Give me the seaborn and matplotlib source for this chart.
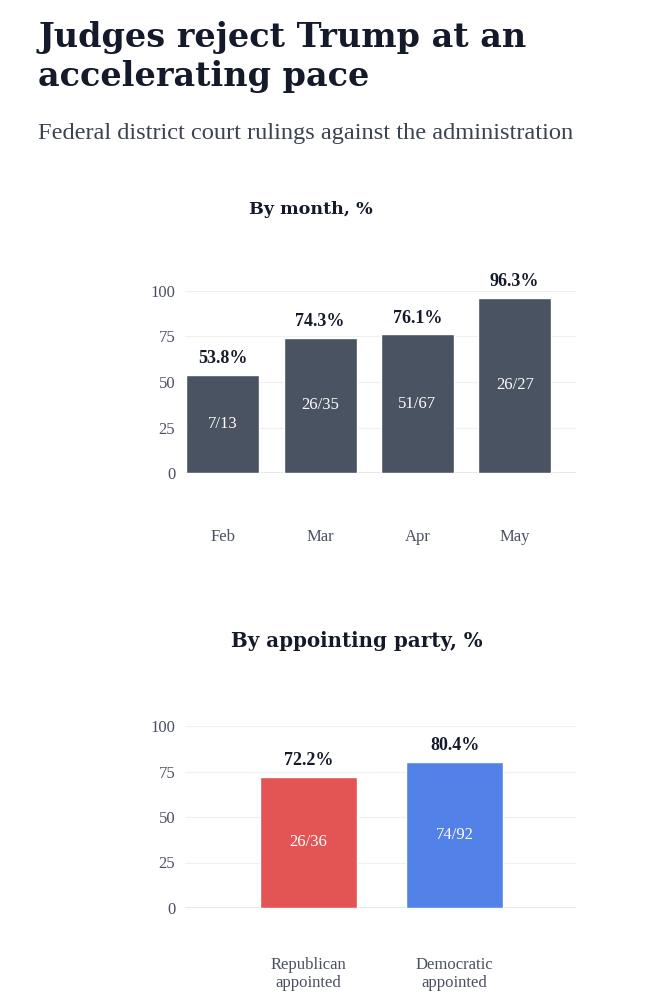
import seaborn as sns
import matplotlib.pyplot as plt
import pandas as pd

months = ['Feb', 'Mar', 'Apr', 'May']
month_pct = [53.8, 74.3, 76.1, 96.3]
month_frac = ['7/13', '26/35', '51/67', '26/27']

parties = ['Republican\nappointed', 'Democratic\nappointed']
party_pct = [72.2, 80.4]
party_frac = ['26/36', '74/92']

yticks = [0, 25, 50, 75, 100]

bar_grey = '#4a5361'
party_colors = ['#e35555', '#5282e8']
ink = '#141a2a'
tick_grey = '#4b5160'

sns.set_theme(style="white")
plt.rcParams['font.family'] = ['Liberation Serif', 'DejaVu Serif']

fig = plt.figure(figsize=(6.58, 10), dpi=100)

fig.text(38/658, 1 - 47/1000, 'Judges reject Trump at an', family='DejaVu Serif',
         fontsize=24.1, fontweight='bold', color=ink, ha='left', va='baseline')
fig.text(38/658, 1 - 86/1000, 'accelerating pace', family='DejaVu Serif',
         fontsize=24.1, fontweight='bold', color=ink, ha='left', va='baseline')
fig.text(38/658, 1 - 139/1000, 'Federal district court rulings against the administration',
         fontsize=17.6, color='#3c4350', ha='left', va='baseline')
fig.text(311/658, 1 - 210/1000, 'By month, %', family='DejaVu Serif',
         fontsize=12.6, fontweight='bold', color=ink, ha='center', va='center')
fig.text(357/658, 1 - 641/1000, 'By appointing party, %', family='DejaVu Serif',
         fontsize=14.3, fontweight='bold', color=ink, ha='center', va='center')


def style_axis(ax, pad):
    ax.set_ylim(0, 100)
    ax.set_yticks(yticks)
    ax.set_xlabel('')
    ax.set_ylabel('')
    for s in ax.spines.values():
        s.set_visible(False)
    for t in yticks[1:]:
        ax.axhline(t, color='#f0f0f0', lw=0.9, zorder=0)
    ax.axhline(0, color='#e2e4e8', lw=1.2, zorder=0)
    ax.tick_params(axis='y', length=0, pad=7, labelsize=12, labelcolor=tick_grey)
    ax.tick_params(axis='x', length=0, pad=pad, labelsize=12, labelcolor=tick_grey)


# top chart: by month
ax1 = fig.add_axes([185/658, 1 - 473/1000, (576 - 185)/658, 182/1000])
df_m = pd.DataFrame({'month': months, 'pct': month_pct})
sns.barplot(data=df_m, x='month', y='pct', color=bar_grey, saturation=1,
            width=0.75, ax=ax1, zorder=2)
ax1.set_xlim(-0.39, 3.63)
style_axis(ax1, 40)
for i, (p, f) in enumerate(zip(month_pct, month_frac)):
    ax1.text(i, p + 9, f'{p}%', ha='center', va='center', fontsize=13,
             fontweight='bold', color=ink, clip_on=False)
    ax1.text(i, p / 2, f, ha='center', va='center', fontsize=12, color='white')

# bottom chart: by appointing party
ax2 = fig.add_axes([185/658, 1 - 908/1000, (576 - 185)/658, 182/1000])
df_p = pd.DataFrame({'party': parties, 'pct': party_pct})
sns.barplot(data=df_p, x='party', y='pct', hue='party', palette=party_colors,
            saturation=1, width=0.665, legend=False, ax=ax2, zorder=2)
ax2.set_xlim(-0.845, 1.83)
style_axis(ax2, 35)
for i, (p, f) in enumerate(zip(party_pct, party_frac)):
    ax2.text(i, p + 9, f'{p}%', ha='center', va='center', fontsize=13,
             fontweight='bold', color=ink, clip_on=False)
    ax2.text(i, p / 2, f, ha='center', va='center', fontsize=12, color='white')

fig.savefig('out.png', dpi=100)
